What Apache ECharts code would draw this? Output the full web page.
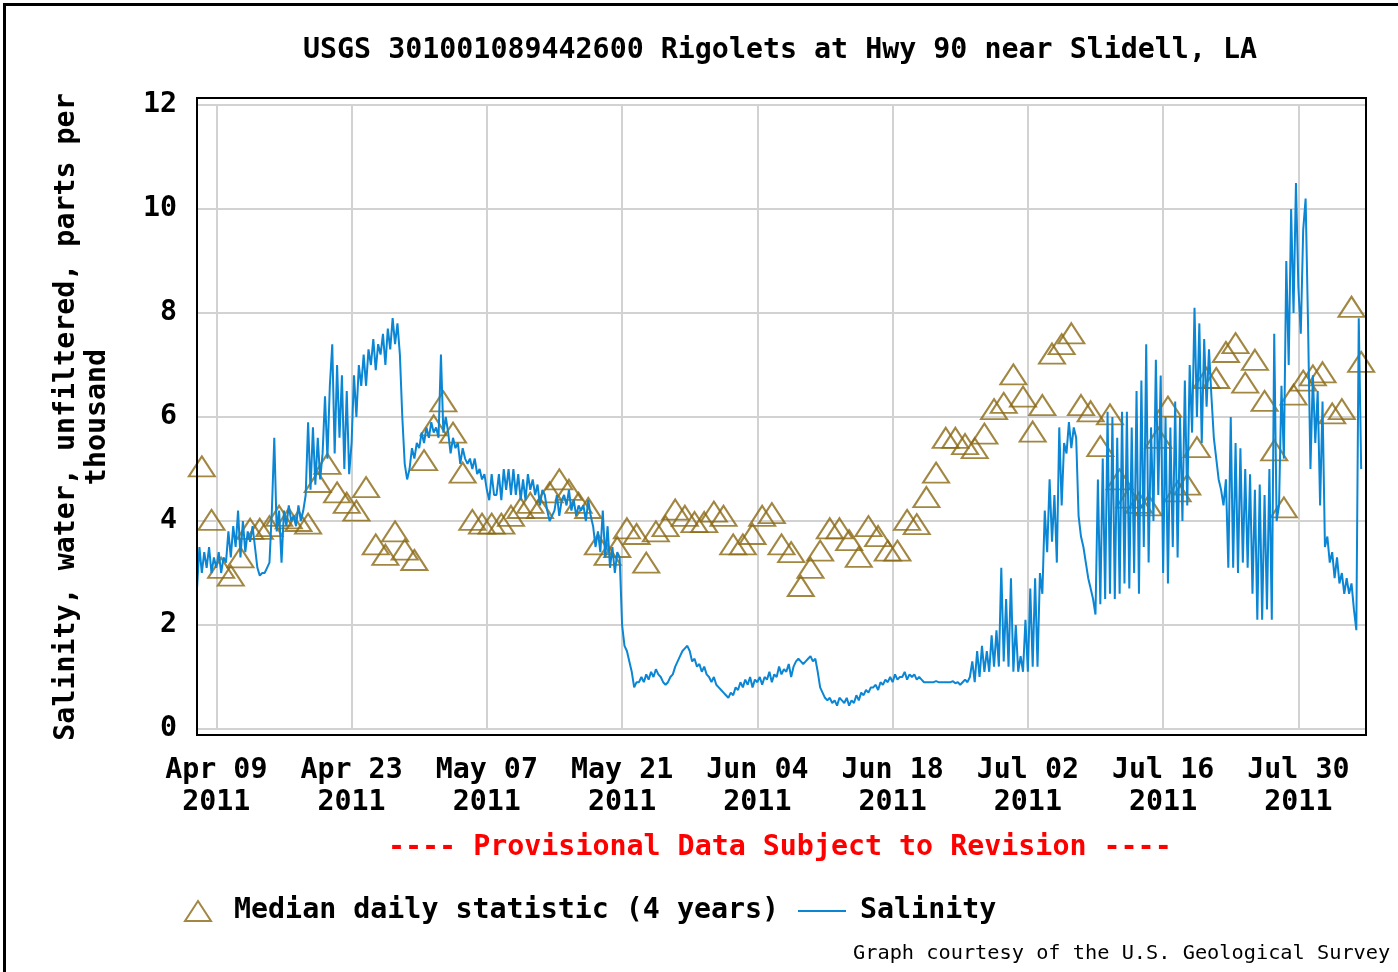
<!DOCTYPE html>
<html>
<head>
<meta charset="utf-8">
<title>USGS 301001089442600 Rigolets at Hwy 90 near Slidell, LA</title>
<script src="https://cdn.jsdelivr.net/npm/echarts@6/dist/echarts.min.js"></script>
<style>
  html, body { margin: 0; padding: 0; background: #fff; }
  #chart { width: 1398px; height: 972px; }
</style>
</head>
<body>
<div id="chart"></div>
<script>
// salinity (ppt), one reading every 6 hours from 2011-04-07 00:00
const salinityStart = '2011-04-07T00:00:00Z';
const salinityStepHours = 6;
const salinity = [
  2.7, 3.5, 3.0, 3.4,  3.1, 3.5, 3.0, 3.3,  3.1, 3.4, 3.0, 3.3,  3.2, 3.8, 3.3, 3.9,
  3.5, 4.2, 3.3, 4.0,  3.4, 3.8, 3.6, 3.9,  3.5, 3.1, 2.95, 3.0,  3.0, 3.1, 3.2, 4.2,
  5.6, 3.8, 4.2, 3.2,  4.2, 3.9, 4.3, 4.0,  4.1, 3.9, 4.3, 4.0,  4.2, 4.5, 5.9, 4.6,
  5.8, 4.7, 5.6, 4.8,  5.3, 6.4, 5.2, 6.6,  7.4, 5.3, 7.0, 5.6,  6.8, 5.0, 6.5, 4.9,
  5.5, 6.8, 6.0, 7.0,  6.6, 7.2, 6.6, 7.3,  7.0, 7.5, 6.9, 7.4,  7.2, 7.6, 7.0, 7.7,
  7.3, 7.9, 7.4, 7.8,  7.2, 6.0, 5.1, 4.8,  5.0, 5.4, 5.2, 5.5,  5.4, 5.7, 5.5, 5.8,
  5.6, 5.9, 5.7, 5.8,  5.6, 7.2, 5.7, 6.0,  5.7, 5.3, 5.6, 5.4,  5.5, 5.1, 5.4, 5.2,
  5.1, 5.2, 5.0, 5.2,  4.9, 5.0, 4.8, 4.9,  4.6, 4.4, 4.9, 4.5,  4.5, 4.9, 4.4, 5.0,
  4.6, 5.0, 4.5, 5.0,  4.5, 4.9, 4.4, 4.8,  4.4, 4.9, 4.6, 4.8,  4.5, 4.7, 4.3, 4.6,
  4.5, 4.2, 4.0, 4.1,  4.2, 4.5, 4.1, 4.4,  4.5, 4.3, 4.6, 4.2,  4.4, 4.1, 4.3, 4.2,
  4.3, 4.0, 4.4, 4.1,  3.9, 3.5, 3.8, 3.4,  4.2, 3.3, 3.9, 3.1,  3.5, 3.0, 3.4, 3.3,
  2.0, 1.6, 1.5, 1.3,  1.1, 0.8, 0.9, 0.9,  1.0, 0.9, 1.05, 0.95,  1.1, 1.0, 1.15, 1.05,
  1.0, 0.9, 0.85, 0.9,  1.0, 1.05, 1.2, 1.3,  1.4, 1.5, 1.55, 1.6,  1.5, 1.3, 1.35, 1.2,
  1.25, 1.1, 1.2, 1.05,  1.0, 0.9, 1.0, 0.85,  0.8, 0.75, 0.7, 0.65,  0.6, 0.7, 0.65, 0.8,
  0.75, 0.9, 0.8, 0.95,  0.85, 1.0, 0.8, 0.95,  0.9, 1.0, 0.85, 1.0,  0.95, 1.1, 0.9, 1.05,
  1.0, 1.2, 1.05, 1.15,  1.1, 1.25, 1.0, 1.2,  1.3, 1.35, 1.3, 1.25,  1.3, 1.35, 1.4, 1.3,
  1.35, 1.1, 0.8, 0.7,  0.6, 0.55, 0.6, 0.5,  0.55, 0.45, 0.6, 0.55,  0.5, 0.6, 0.45, 0.55,
  0.5, 0.65, 0.55, 0.7,  0.65, 0.75, 0.7, 0.8,  0.8, 0.85, 0.75, 0.9,  0.85, 0.95, 0.9, 1.0,
  0.9, 1.05, 0.95, 1.0,  1.0, 1.1, 0.95, 1.05,  1.0, 1.05, 0.95, 1.0,  0.95, 0.9, 0.9, 0.9,
  0.9, 0.9, 0.92, 0.9,  0.9, 0.9, 0.9, 0.9,  0.9, 0.92, 0.88, 0.9,  0.85, 0.9, 0.95, 0.9,
  1.0, 1.3, 0.9, 1.5,  1.0, 1.6, 1.1, 1.5,  1.1, 1.8, 1.2, 1.9,  1.2, 3.1, 1.3, 2.5,
  1.2, 2.9, 1.1, 2.0,  1.1, 1.4, 1.1, 2.1,  1.1, 2.7, 1.2, 2.9,  1.2, 3.0, 2.6, 4.2,
  3.4, 4.8, 3.6, 4.5,  3.2, 5.8, 4.3, 5.5,  5.3, 5.9, 5.4, 5.8,  5.6, 4.1, 3.7, 3.5,
  3.2, 2.9, 2.7, 2.5,  2.2, 4.8, 2.4, 5.2,  2.5, 6.1, 2.6, 6.0,  2.5, 5.6, 2.6, 6.1,
  2.8, 6.1, 2.7, 5.8,  3.0, 6.5, 2.6, 6.7,  3.5, 7.4, 3.2, 5.8,  4.0, 7.1, 4.5, 6.8,
  3.0, 6.0, 2.8, 5.8,  3.5, 6.3, 3.3, 6.0,  4.0, 6.7, 4.3, 7.0,  5.7, 8.1, 6.0, 7.8,
  5.5, 7.5, 6.2, 7.3,  6.4, 5.6, 5.2, 4.8,  4.6, 4.3, 4.8, 3.1,  6.0, 3.1, 5.5, 3.0,
  5.4, 3.2, 5.0, 3.1,  4.9, 2.6, 4.6, 2.1,  4.7, 2.1, 4.5, 2.3,  5.0, 2.1, 7.6, 4.0,
  4.3, 6.6, 5.2, 9.0,  7.0, 10.0, 8.0, 10.5,  8.5, 7.6, 9.6, 10.2,  7.8, 5.0, 6.8, 5.5,
  6.5, 4.3, 6.3, 3.5,  3.7, 3.2, 3.4, 2.9,  3.3, 2.8, 3.0, 2.6,  2.9, 2.6, 2.8, 2.3,
  1.9, 7.9, 5.0
];

// median daily statistic (4 years), one value per day, plotted at noon
const medianStart = '2011-04-07T12:00:00Z';
const median = [
  5.05, 4.02, 3.1, 2.95, 3.3, 3.85, 3.85, 3.9, 4.1, 4.05, 4.0, 3.95, 4.75, 5.1, 4.55, 4.35,
  4.2, 4.65, 3.55, 3.35, 3.8, 3.45, 3.25, 5.17, 5.84, 6.3, 5.7, 4.93, 4.02, 3.95, 3.95, 3.95,
  4.1, 4.25, 4.35, 4.25, 4.55, 4.8, 4.6, 4.35, 4.25, 3.55, 3.35, 3.5, 3.86, 3.75, 3.2, 3.8,
  3.9, 4.22, 4.1, 3.98, 3.98, 4.18, 4.1, 3.55, 3.55, 3.75, 4.1, 4.15, 3.55, 3.4, 2.75, 3.1,
  3.43, 3.86, 3.86, 3.63, 3.31, 3.9, 3.71, 3.43, 3.43, 4.02, 3.94, 4.46, 4.93, 5.6, 5.6, 5.48,
  5.4, 5.68, 6.15, 6.27, 6.82, 6.39, 5.72, 6.23, 7.22, 7.4, 7.61, 6.23, 6.11, 5.44, 6.05, 4.8,
  4.45, 4.35, 4.3, 5.6, 6.2, 4.57, 4.7, 5.42, 6.75, 6.75, 7.25, 7.42, 6.66, 7.1, 6.31, 5.36,
  4.26, 6.43, 6.7, 6.8, 6.86, 6.07, 6.15, 8.12, 7.06
];

const tickDates = ['2011-04-09', '2011-04-23', '2011-05-07', '2011-05-21', '2011-06-04',
  '2011-06-18', '2011-07-02', '2011-07-16', '2011-07-30'];
const tickLabels = ['Apr 09', 'Apr 23', 'May 07', 'May 21', 'Jun 04',
  'Jun 18', 'Jul 02', 'Jul 16', 'Jul 30'];
const tickYear = '2011';

// x axis runs in days since the start of the plotted window
const axisStart = '2011-04-07T00:00:00Z';
const axisEnd = '2011-08-06T00:00:00Z';

const DAY = 24 * 3600 * 1000;
const FONT = '"DejaVu Sans Mono", "Liberation Mono", monospace';

const origin = Date.parse(axisStart);
const toDay = (iso) => (Date.parse(iso) - origin) / DAY;

const s0 = toDay(salinityStart);
const salinityData = salinity.map((v, i) => [s0 + i * salinityStepHours / 24, v]);
const m0 = toDay(medianStart);
const medianData = median.map((v, i) => [m0 + i, v]);
const tickDays = tickDates.map(d => toDay(d + 'T00:00:00Z'));

const chart = echarts.init(document.getElementById('chart'));

const labelFont = { fontFamily: FONT, fontSize: 28.3, fontWeight: 'bold', color: '#000' };
const medianColor = '#8b6914';
const salinityColor = '#0a86d4';

chart.setOption({
  animation: false,
  backgroundColor: '#fff',
  textStyle: { fontFamily: FONT },
  title: [{
    text: 'USGS 301001089442600 Rigolets at Hwy 90 near Slidell, LA',
    left: 303,
    top: 35,
    padding: 0,
    textStyle: Object.assign({ lineHeight: 32 }, labelFont),
  }, {
    text: '---- Provisional Data Subject to Revision ----',
    left: 388,
    top: 832,
    padding: 0,
    textStyle: Object.assign({}, labelFont, { color: '#ff0000', lineHeight: 32 }),
  }, {
    text: 'Graph courtesy of the U.S. Geological Survey',
    left: 853,
    top: 943,
    padding: 0,
    textStyle: { fontFamily: FONT, fontSize: 20.3, fontWeight: 'normal', color: '#000', lineHeight: 22 },
  }],
  legend: [{
    data: [{
      name: 'Median daily statistic (4 years)',
      icon: 'triangle',
      itemStyle: { color: 'transparent', borderColor: medianColor, borderWidth: 2 },
    }],
    left: 184,
    top: 895,
    padding: 0,
    itemWidth: 26,
    itemHeight: 20,
    selectedMode: false,
    textStyle: Object.assign({}, labelFont, { lineHeight: 32, padding: [0, 0, 0, 18] }),
  }, {
    data: [{
      name: 'Salinity',
      icon: 'rect',
      itemStyle: { color: salinityColor },
    }],
    left: 798,
    top: 895,
    padding: 0,
    itemWidth: 48,
    itemHeight: 2,
    selectedMode: false,
    textStyle: Object.assign({}, labelFont, { lineHeight: 32, padding: [0, 0, 0, 9] }),
  }],
  grid: {
    left: 197,
    right: 32,
    top: 105,
    bottom: 243,
    containLabel: false,
  },
  xAxis: {
    type: 'value',
    min: 0,
    max: toDay(axisEnd),
    axisLine: { show: false },
    axisTick: { show: false, customValues: tickDays },
    splitLine: { show: true, lineStyle: { color: '#d2d2d2', width: 2 } },
    axisLabel: Object.assign({
      customValues: tickDays,
      margin: 26,
      lineHeight: 32,
      formatter: function (value) {
        let i = -1;
        tickDays.forEach((d, k) => { if (Math.abs(d - value) < 1e-6) i = k; });
        return i < 0 ? '' : tickLabels[i] + '\n' + tickYear;
      },
    }, labelFont),
  },
  yAxis: {
    type: 'value',
    min: 0,
    max: 12,
    interval: 2,
    name: 'Salinity, water, unfiltered, parts per\nthousand',
    nameLocation: 'middle',
    nameGap: 84,
    nameTextStyle: Object.assign({ lineHeight: 31, align: 'center' }, labelFont),
    axisLine: { show: false },
    axisTick: { show: false },
    splitLine: { lineStyle: { color: '#d2d2d2', width: 2 } },
    axisLabel: Object.assign({ margin: 20, padding: [4, 0, 0, 0] }, labelFont),
  },
  graphic: [{
    type: 'rect',
    z: 100,
    silent: true,
    shape: { x: 197, y: 98, width: 1169, height: 637 },
    style: { fill: null, stroke: '#000', lineWidth: 2 },
  }, {
    type: 'rect',
    z: 100,
    silent: true,
    shape: { x: 4.5, y: 4.5, width: 1400, height: 1000 },
    style: { fill: null, stroke: '#000', lineWidth: 3 },
  }],
  series: [{
    name: 'Median daily statistic (4 years)',
    type: 'scatter',
    symbol: 'triangle',
    symbolSize: [26, 20],
    itemStyle: { color: 'transparent', borderColor: medianColor, borderWidth: 2 },
    data: medianData,
    z: 2,
  }, {
    name: 'Salinity',
    type: 'line',
    symbol: 'none',
    lineStyle: { color: salinityColor, width: 2 },
    itemStyle: { color: salinityColor },
    data: salinityData,
    z: 3,
  }],
});
</script>
</body>
</html>
